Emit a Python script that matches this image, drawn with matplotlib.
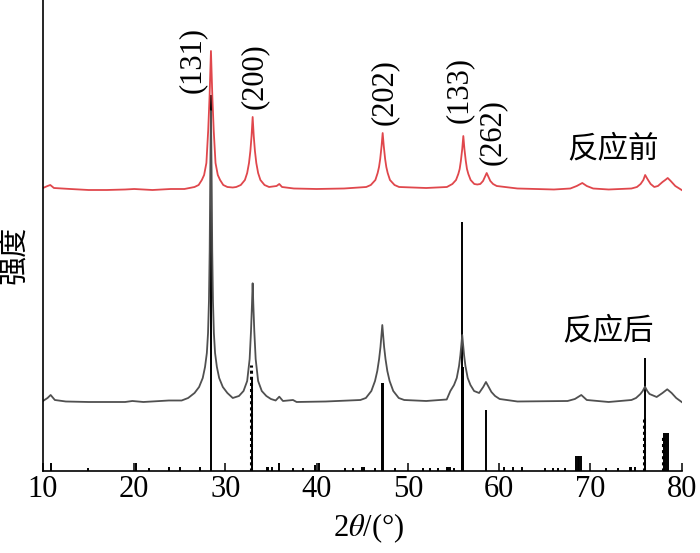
import matplotlib
matplotlib.use('Agg')
import matplotlib.pyplot as plt
import numpy as np

plt.rcParams['font.family'] = ['Liberation Serif', 'Noto Sans CJK SC']
plt.rcParams['mathtext.fontset'] = 'stix'

# before reaction (red), (2theta, intensity)
before_pts = [
    (10.0, 283), (10.5, 285), (10.8, 286), (11.2, 283), (13.0, 282), (15.0, 281), (17.0, 281),
    (19.0, 281.5), (20.0, 282), (22.0, 281), (24.0, 282), (25.5, 282),
    (26.61, 284), (27.06, 286), (27.41, 291), (27.66, 296), (27.91, 308), (28.11, 341),
    (28.26, 375), (28.41, 420), (28.56, 375), (28.71, 341), (28.91, 308), (29.16, 296),
    (29.41, 291), (29.76, 286), (30.21, 284), (30.8, 283.5),
    (31.18, 284), (31.68, 286), (32.13, 291), (32.38, 298), (32.58, 308), (32.73, 320),
    (32.86, 335), (32.98, 354), (33.10, 335), (33.23, 320), (33.38, 308), (33.58, 298),
    (33.83, 291), (34.28, 286), (34.78, 284),
    (35.6, 285), (35.9, 287), (36.2, 284), (37.5, 282.5), (40.0, 282), (43.0, 282.5),
    (45.43, 284), (45.93, 286), (46.43, 291), (46.68, 298), (46.83, 304), (46.96, 312),
    (47.11, 325), (47.23, 338), (47.35, 325), (47.50, 312), (47.63, 304), (47.78, 298),
    (48.03, 291), (48.53, 286), (49.03, 284), (52.0, 283),
    (54.27, 284), (54.87, 287), (55.27, 291), (55.52, 297), (55.67, 302), (55.80, 310),
    (55.95, 322), (56.07, 335), (56.19, 322), (56.34, 310), (56.47, 302), (56.62, 297),
    (56.87, 291), (57.27, 287), (57.6, 286.5),
    (57.93, 287), (58.23, 290), (58.43, 294), (58.63, 298), (58.83, 294), (59.03, 290),
    (59.33, 287), (59.73, 285), (62.0, 282.5), (66.0, 281.5), (67.8, 282.5), (68.5, 285),
    (69.11, 288), (69.6, 285), (70.3, 282.5), (72.0, 281.5), (74.5, 282.5), (75.1, 284),
    (75.5, 287), (75.8, 291), (76.0, 296), (76.25, 292), (76.6, 287), (77.0, 284),
    (77.4, 285), (77.9, 289), (78.2, 291), (78.47, 293), (78.8, 290), (79.3, 285), (80.0, 281),
]

# after reaction (dark grey)
after_pts = [
    (10.0, 70), (10.5, 73), (10.84, 76), (11.3, 71), (12.5, 69.5), (15.0, 69), (19.0, 69),
    (19.8, 70), (21.0, 69), (23.8, 70.5), (25.2, 70.5),
    (25.91, 73), (26.61, 78), (27.11, 84), (27.51, 93), (27.76, 104), (27.96, 118),
    (28.09, 138), (28.19, 170), (28.27, 220), (28.34, 300), (28.41, 360), (28.48, 300),
    (28.55, 220), (28.63, 170), (28.73, 138), (28.86, 118), (29.06, 104), (29.31, 93),
    (29.71, 84), (30.21, 78), (30.8, 73),
    (31.48, 75), (31.98, 80), (32.38, 90), (32.65, 112), (32.80, 140), (32.90, 165),
    (32.98, 187.7), (33.06, 165), (33.16, 140), (33.31, 112), (33.58, 90), (33.98, 80),
    (34.48, 75), (34.98, 72),
    (35.5, 70.5), (35.9, 74.3), (36.3, 70), (37.4, 71), (37.8, 69), (41.0, 69.5),
    (44.79, 71), (45.39, 73), (45.99, 80), (46.39, 90), (46.64, 100), (46.84, 112),
    (46.99, 124), (47.09, 135), (47.19, 146), (47.29, 135), (47.39, 124), (47.54, 112),
    (47.74, 100), (47.99, 90), (48.39, 80), (48.99, 73), (49.59, 71), (52.0, 70),
    (54.25, 71.5), (54.65, 80), (55.05, 86), (55.35, 93), (55.60, 105), (55.75, 116),
    (55.85, 126), (55.95, 136), (56.05, 126), (56.15, 116), (56.30, 105), (56.55, 93),
    (56.85, 86), (57.25, 80),
    (57.8, 78), (58.25, 84), (58.55, 89), (58.85, 84), (59.15, 79), (59.55, 75), (60.05, 72),
    (62.0, 69.5), (67.5, 70), (68.3, 72), (69.0, 76), (69.6, 71), (72.0, 69), (74.5, 71),
    (75.0, 73), (75.48, 77), (75.73, 80), (75.98, 84.3), (76.23, 80), (76.48, 77),
    (77.26, 74), (77.9, 78), (78.42, 81.7), (78.9, 78), (79.4, 73), (80.0, 69),
]

# reference card sticks (solid)
stick_x = [28.41, 32.88, 32.93, 47.15, 47.25, 55.88, 55.95, 56.02, 56.08, 58.55,
           68.45, 68.6, 68.75, 68.95, 76.0, 75.95, 78.1, 78.25, 78.45,
           10.84, 14.9, 20.2, 21.65, 23.85, 25.05, 27.2, 34.5, 34.65, 35.1, 35.9, 37.4, 38.5,
           39.8, 40.2, 43.1, 43.95, 45.0, 45.15, 46.4, 48.6, 51.6, 52.4, 53.3, 54.25, 54.4,
           54.6, 55.0, 60.5, 61.55, 62.5, 65.0, 65.9, 66.5, 67.2, 71.7, 73.05, 74.35, 74.5, 74.9]
stick_h = [376, 94, 80, 88, 88, 104, 249, 104, 95, 61,
           15, 15, 15, 15, 113, 53, 38, 38, 38,
           8, 3, 8, 3, 4, 4, 4, 4, 4, 4, 8, 3, 3,
           6, 8, 3, 3, 4, 4, 3, 3, 3, 3, 3, 4, 4,
           4, 3, 4, 4, 4, 3, 3, 3, 3, 3, 3, 4, 4, 4]
# dotted sticks
dot_x = [32.75, 75.88, 77.95]
dot_h = [106, 53, 34]

labels = ['(131)', '(200)', '(202)', '(133)', '(262)']
label_x = [26.33, 33.13, 47.37, 55.59, 59.21]
label_y = [411, 395, 379, 381, 339]

before_x, before_y = zip(*before_pts)
after_x, after_y = zip(*after_pts)

fig = plt.figure(figsize=(7, 5.53), dpi=100)
ax = fig.add_axes([0.0614, 0.1483, 0.9124, 0.8517])

ax.vlines(stick_x, 0, stick_h, colors='black', linewidth=1.4)
ax.vlines(dot_x, 0, dot_h, colors='black', linewidth=2.2, linestyles=(0, (1, 1)))
ax.plot(after_x, after_y, color='#505050', linewidth=1.3)
ax.plot(before_x, before_y, color='#e0474c', linewidth=1.3)

for s, x, y in zip(labels, label_x, label_y):
    ax.text(x, y, s, rotation=90, ha='center', va='center', fontsize=22)
ax.text(72.47, 322.5, '反应前', ha='center', va='center', fontsize=22, family='Noto Sans CJK SC')
ax.text(71.93, 140, '反应后', ha='center', va='center', fontsize=22, family='Noto Sans CJK SC')

ax.set_xlim(10, 80)
ax.set_ylim(0, 471)
ax.set_xticks([10, 20, 30, 40, 50, 60, 70, 80])
ax.set_yticks([])
ax.tick_params(axis='x', direction='in', length=6, width=1.1, labelsize=22, pad=3)
for side in ['top', 'right']:
    ax.spines[side].set_visible(False)
for side in ['left', 'bottom']:
    ax.spines[side].set_linewidth(1.2)

ax.set_xlabel(r'2$\theta$/(°)', fontsize=22)
ax.xaxis.set_label_coords(0.51, -0.085)
ax.set_ylabel('强度', fontsize=21, family='Noto Sans CJK SC')
ax.yaxis.set_label_coords(-0.022, 0.459)

fig.savefig('out.png', dpi=100)
